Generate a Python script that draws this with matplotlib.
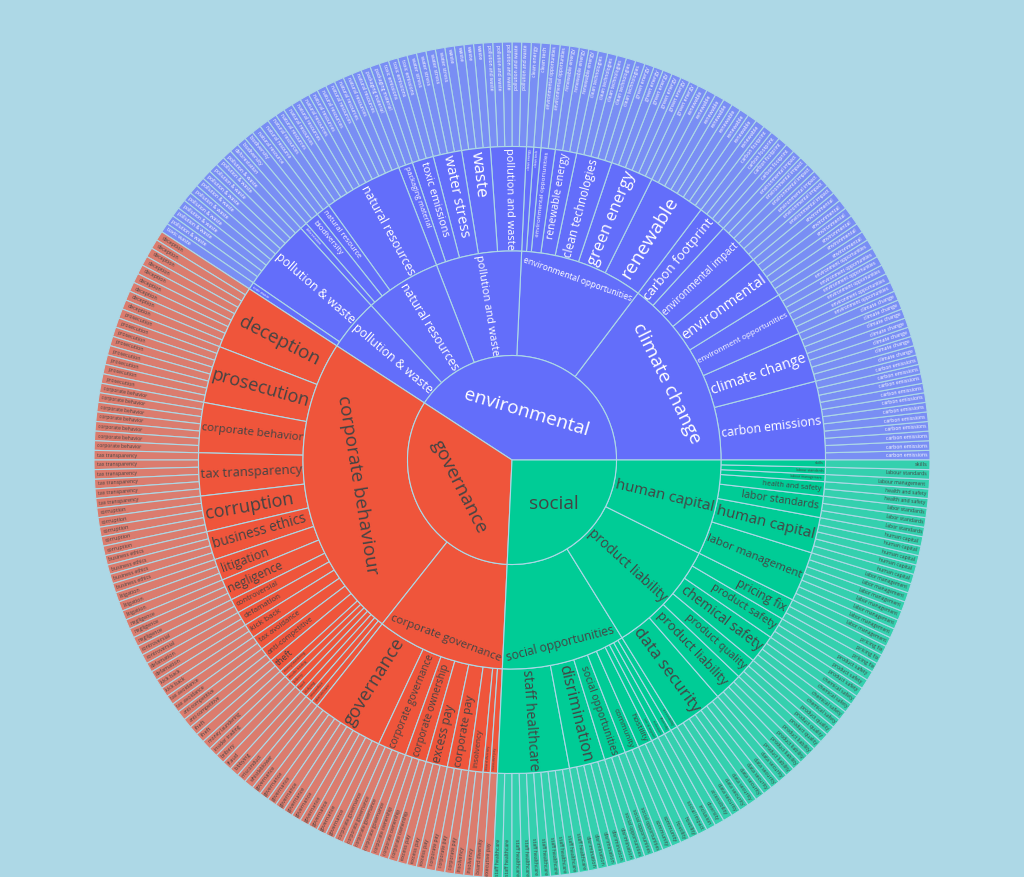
import math
import matplotlib
matplotlib.use("Agg")
import matplotlib.pyplot as plt
from matplotlib.patches import Wedge
from matplotlib.font_manager import FontProperties
from matplotlib.colors import to_rgb

# ESG keyword taxonomy: sector > group > topic > keywords (each keyword counts 1)
sectors = ["environmental", "governance", "social"]

groups = ["climate change", "environmental opportunities", "pollution and waste",
          "natural resources", "pollution & waste",
          "corporate behaviour", "corporate governance",
          "social opportunities", "product liability", "human capital"]
group_sector = ["environmental"] * 5 + ["governance"] * 2 + ["social"] * 3
topics_per_group = [6, 7, 5, 4, 2, 21, 8, 9, 6, 7]

topics = [
    # climate change
    "carbon emissions", "climate change", "environment opportunities", "environmental",
    "environmental impact", "carbon footprint",
    # environmental opportunities
    "renewable", "green energy", "clean technologies", "renewable energy",
    "environmental opportunities", "clean tech", "clean energy",
    # pollution and waste
    "pollution and waste", "waste", "water stress", "toxic emissions", "packaging material",
    # natural resources
    "natural resources", "natural resource", "biodiversity", "deforestation",
    # pollution & waste
    "pollution & waste", "toxic waste",
    # corporate behaviour
    "deception", "prosecution", "corporate behavior", "tax transparency", "corruption",
    "business ethics", "litigation", "negligence", "controversial", "defamation",
    "kick back", "tax avoidance", "anti-competitive", "theft", "money laundering",
    "insider trading", "bribery", "fraud", "lobbying", "misconduct", "whistleblower",
    # corporate governance
    "governance", "corporate governance", "corporate ownership", "excess pay",
    "corporate pay", "insolvency", "board diversity", "executive pay",
    # social opportunities
    "staff healthcare", "disrimination", "social opportunities", "community", "hostility",
    "social impact", "inclusion", "diversity", "accessibility",
    # product liability
    "data security", "product liability", "product quality", "chemical safety",
    "product safety", "pricing fix",
    # human capital
    "labor management", "human capital", "labor standards", "health and safety",
    "labour management", "labour standards", "skills",
]

keyword_counts = [
    11, 7, 6, 6, 6, 4,
    8, 6, 5, 3, 2, 1, 1,
    5, 4, 4, 3, 2,
    11, 2, 2, 1,
    10, 1,
    9, 8, 7, 6, 5, 4, 3, 3, 2, 2, 2, 2, 2, 2, 1, 1, 1, 1, 1, 1, 1,
    10, 4, 3, 3, 3, 2, 1, 1,
    10, 5, 3, 2, 2, 1, 1, 1, 1,
    7, 4, 3, 4, 3, 3,
    7, 5, 3, 2, 1, 1, 1,
]

# style
BG = "#add8e6"
sector_colors = {"environmental": "#636efa", "governance": "#ef553b", "social": "#00cc96"}
centre_orient = {"environmental": "tangential", "governance": "tangential", "social": "horizontal"}
LEAF_OPACITY = 0.7
FONT = ["Open Sans", "DejaVu Sans"]
DPI = 100
W, H = 1024, 877
CX, CY = 512, 460
RING = 104.5
FS_MAX = 19.0

topic_group = [g for g, n in zip(groups, topics_per_group) for _ in range(n)]
sector_of_group = dict(zip(groups, group_sector))
unit = 360.0 / sum(keyword_counts)

fig = plt.figure(figsize=(W / DPI, H / DPI), dpi=DPI, facecolor=BG)
ax = fig.add_axes([0, 0, 1, 1])
ax.set_facecolor(BG)
ax.set_xlim(-CX, W - CX)
ax.set_ylim(CY - H, CY)
ax.set_aspect("equal")
ax.axis("off")

renderer = fig.canvas.get_renderer()
probe = FontProperties(family=FONT, size=10)
_em_cache = {}


def em_width(s):
    if s not in _em_cache:
        w, _, _ = renderer.get_text_width_height_descent(s, probe, ismath=False)
        _em_cache[s] = w / (10 * DPI / 72.0)
    return _em_cache[s]


def blend(c, a):
    return tuple(a * x + (1 - a) * y for x, y in zip(to_rgb(c), to_rgb(BG)))


def ink(sector):
    return "white" if sector == "environmental" else "#444444"


def rotation(theta, orient):
    a = theta if orient == "radial" else theta - 90
    a = (a + 180) % 360 - 180
    if a > 90:
        a -= 180
    elif a <= -90:
        a += 180
    return a


def fit(s, r0, r1, t0, t1, orient, place):
    half = min(math.radians(t1 - t0) / 2, math.radians(89))
    tn = math.tan(half)
    em = em_width(s)
    fs = FS_MAX
    while fs > 0.4:
        w = em * fs
        h = 1.3 * fs + 2
        if orient == "radial":
            lo = max(r0 + 1.5 + w / 2, w / 2 + (h / 2) / tn)
            hi = math.sqrt(max((r1 - 1.5) ** 2 - (h / 2) ** 2, 0)) - w / 2
        else:
            lo = max(r0 + h / 2, h / 2 + (w / 2) / tn)
            hi = math.sqrt(max((r1 - 1.5) ** 2 - (w / 2) ** 2, 0)) - h / 2
        if lo <= hi:
            return fs, lo + place * (hi - lo)
        fs *= 0.985
    return 0, (r0 + r1) / 2


def draw(s, r0, r1, t0, t1, face, color, orient=None):
    ax.add_patch(Wedge((0, 0), r1, t0, t1, width=r1 - r0, facecolor=face,
                       edgecolor=BG, linewidth=0.8))
    mid = (t0 + t1) / 2
    if orient == "horizontal":
        fs, rc, rot = FS_MAX, 0.58 * r1, 0
    elif orient is not None:
        fs, rc = fit(s, r0, r1, t0, t1, orient, 0.5)
        rot = rotation(mid, orient)
    else:
        fr = fit(s, r0, r1, t0, t1, "radial", 0.5)
        ft = fit(s, r0, r1, t0, t1, "tangential", 0.7)
        if ft[0] > 1.05 * fr[0]:
            (fs, rc), rot = ft, rotation(mid, "tangential")
        else:
            (fs, rc), rot = fr, rotation(mid, "radial")
    if fs < 0.5:
        return
    x, y = rc * math.cos(math.radians(mid)), rc * math.sin(math.radians(mid))
    ax.text(x, y, s, fontsize=fs * 72 / DPI, color=color, rotation=rot,
            rotation_mode="anchor", ha="center", va="center", family=FONT)


# angle range of every topic, counter-clockwise from 3 o'clock
topic_span = []
start = 0.0
for n in keyword_counts:
    topic_span.append((start, start + n * unit))
    start += n * unit

# level 4: keywords
for i, (name, n) in enumerate(zip(topics, keyword_counts)):
    sec = sector_of_group[topic_group[i]]
    t0 = topic_span[i][0]
    for k in range(n):
        draw(name, 3 * RING, 4 * RING, t0 + k * unit, t0 + (k + 1) * unit,
             blend(sector_colors[sec], LEAF_OPACITY), ink(sec))

# level 3: topics
for i, name in enumerate(topics):
    sec = sector_of_group[topic_group[i]]
    draw(name, 2 * RING, 3 * RING, *topic_span[i], sector_colors[sec], ink(sec))

# level 2: groups
for g in groups:
    idx = [i for i, tg in enumerate(topic_group) if tg == g]
    sec = sector_of_group[g]
    draw(g, RING, 2 * RING, topic_span[idx[0]][0], topic_span[idx[-1]][1],
         sector_colors[sec], ink(sec))

# level 1: sectors
for s in sectors:
    idx = [i for i, tg in enumerate(topic_group) if sector_of_group[tg] == s]
    draw(s, 0, RING, topic_span[idx[0]][0], topic_span[idx[-1]][1],
         sector_colors[s], ink(s), orient=centre_orient[s])

fig.savefig("out.png", dpi=DPI, facecolor=BG)
